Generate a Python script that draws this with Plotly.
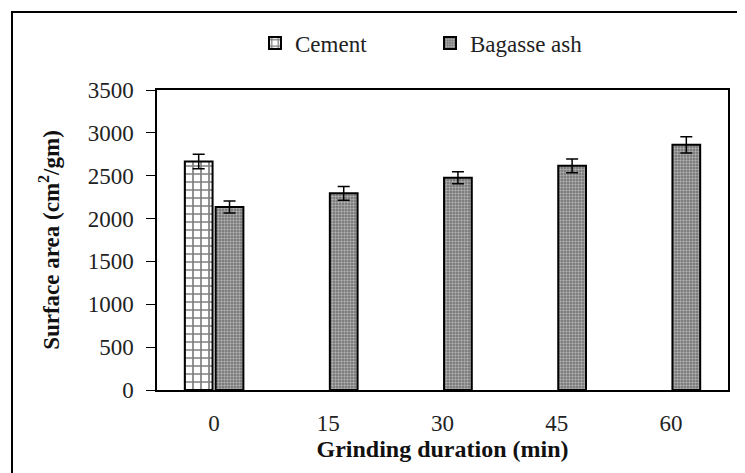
import plotly.graph_objects as go

categories = ["0", "15", "30", "45", "60"]
cement_vals = [2665, None, None, None, None]
cement_err = [85, 0, 0, 0, 0]
bagasse_vals = [2135, 2295, 2475, 2615, 2860]
bagasse_err = [70, 80, 70, 80, 95]
y_ticks = [0, 500, 1000, 1500, 2000, 2500, 3000, 3500]
series_names = ["Cement", "Bagasse ash"]

FONT = "Liberation Serif"

# page offset of the figure inside the browser (body margin)
OFF = 8
W, H = 745 - OFF, 473 - OFF
PL, PR, PT, PB = 157 - OFF, 728 - OFF, 90 - OFF, 390 - OFF  # plot-area edges in figure px
PW, PH = PR - PL, PB - PT


def legend_name(s):
    return "<span style='font-family:Liberation Serif'>" + s + "</span>"


fig = go.Figure()
fig.add_trace(go.Bar(
    name=legend_name(series_names[0]), x=categories, y=cement_vals,
    marker=dict(color="white", line=dict(color="black", width=2),
                pattern=dict(shape="+", fgcolor="black", bgcolor="white", size=8, solidity=0.38)),
    error_y=dict(type="data", array=cement_err, color="black", thickness=1.5, width=6),
))
fig.add_trace(go.Bar(
    name=legend_name(series_names[1]), x=categories, y=bagasse_vals,
    marker=dict(color="#888888", line=dict(color="black", width=2),
                pattern=dict(shape=".", fgcolor="#f0f0f0", bgcolor="#6e6e6e", size=3, solidity=0.5)),
    error_y=dict(type="data", array=bagasse_err, color="black", thickness=1.5, width=6),
))

fig.update_layout(
    width=W, height=H,
    margin=dict(l=PL, r=W - PR, t=PT, b=H - PB),
    paper_bgcolor="white", plot_bgcolor="white",
    barmode="group", bargap=0.46, bargroupgap=0.1,
    font=dict(family=FONT, size=23, color="#222222"),
    legend=dict(orientation="h", x=(255 - OFF - PL) / PW, xanchor="left",
                y=(PB - (43 - OFF)) / PH, yanchor="middle",
                font=dict(family=FONT, size=23, color="#222222"),
                bgcolor="rgba(0,0,0,0)", itemwidth=30, tracegroupgap=0,
                entrywidth=130, entrywidthmode="pixels"),
    showlegend=True,
    xaxis=dict(type="category", showline=True, linecolor="black", linewidth=1.5, mirror=True,
               ticks="", ticklabelstandoff=12, showgrid=False,
               tickfont=dict(family=FONT, size=23, color="#222222"),
               title=dict(text="<b>Grinding duration (min)</b>", standoff=1,
                          font=dict(family=FONT, size=24, color="#111111"))),
    yaxis=dict(range=[0, 3500], tickvals=y_ticks, showline=True, linecolor="black", linewidth=1.5,
               mirror=True, ticks="outside", ticklen=9, tickwidth=1, tickcolor="black",
               ticklabelstandoff=8, showgrid=False, zeroline=False,
               tickfont=dict(family=FONT, size=23, color="#222222"),
               title=dict(text="<b>Surface area (cm<sup>2</sup>/gm)</b>", standoff=22,
                          font=dict(family=FONT, size=23, color="#111111"))),
    shapes=[dict(type="rect", xref="paper", yref="paper",
                 x0=(12 - 157) / PW, x1=(760 - 157) / PW,
                 y0=(390 - 490) / PH, y1=(390 - 12) / PH,
                 line=dict(color="black", width=2), fillcolor="rgba(0,0,0,0)", layer="below")],
)

fig.write_html("out.html")
